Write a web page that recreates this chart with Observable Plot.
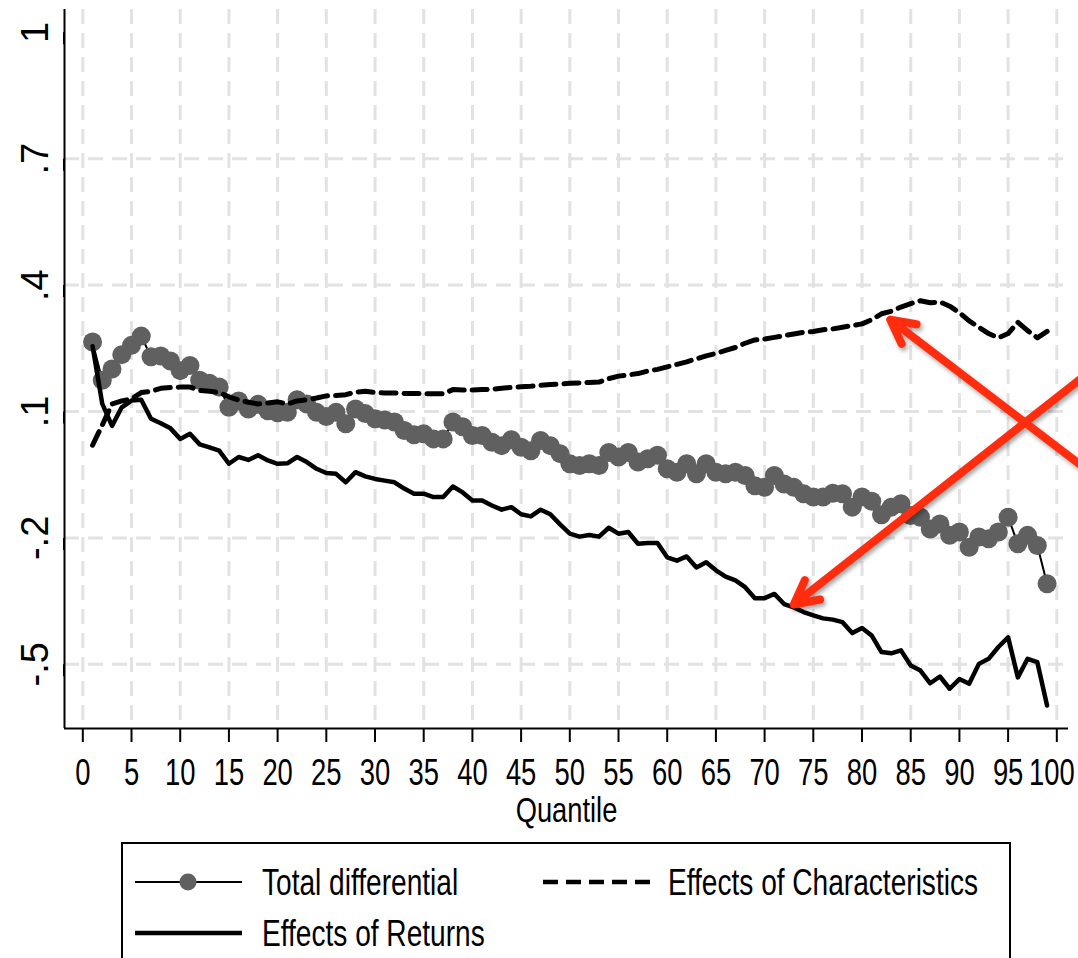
<!DOCTYPE html>
<html>
<head>
<meta charset="utf-8">
<script src="https://cdn.jsdelivr.net/npm/d3@7"></script>
<script src="https://cdn.jsdelivr.net/npm/@observablehq/plot@0.6"></script>
<style>
  html, body { margin: 0; padding: 0; background: #fff; overflow: hidden; }
  #wrap { position: relative; width: 1078px; height: 958px; background: #fff; }
  #wrap svg { display: block; }
  #legend { position: absolute; left: 0; top: 830px; }
</style>
</head>
<body>
<div id="wrap"></div>
<script>
// ---------------- data ----------------
const quantiles = d3.range(1, 100);

const totalDiff = [
  0.265, 0.174, 0.201, 0.235, 0.257, 0.279, 0.230, 0.232, 0.220, 0.197,
  0.209, 0.174, 0.167, 0.158, 0.110, 0.125, 0.106, 0.117, 0.102, 0.097,
  0.098, 0.128, 0.118, 0.098, 0.088, 0.098, 0.071, 0.106, 0.095, 0.083,
  0.080, 0.075, 0.055, 0.045, 0.047, 0.035, 0.035, 0.075, 0.064, 0.043,
  0.043, 0.027, 0.019, 0.033, 0.015, 0.007, 0.031, 0.019, 0.000, -0.024,
  -0.028, -0.024, -0.028, 0.003, -0.008, 0.003, -0.020, -0.012, -0.004, -0.036,
  -0.044, -0.024, -0.048, -0.024, -0.044, -0.048, -0.044, -0.052, -0.076, -0.080,
  -0.052, -0.072, -0.080, -0.095, -0.103, -0.103, -0.094, -0.095, -0.127, -0.103,
  -0.113, -0.145, -0.127, -0.119, -0.147, -0.151, -0.179, -0.167, -0.194, -0.186,
  -0.222, -0.198, -0.202, -0.186, -0.151, -0.214, -0.194, -0.218, -0.309
];

const charEffects = [
  0.020, 0.068, 0.118, 0.125, 0.130, 0.145, 0.148, 0.155, 0.157, 0.158,
  0.158, 0.150, 0.148, 0.145, 0.135, 0.127, 0.122, 0.118, 0.120, 0.123,
  0.118, 0.125, 0.128, 0.132, 0.137, 0.138, 0.140, 0.146, 0.148, 0.145,
  0.144, 0.144, 0.143, 0.143, 0.142, 0.142, 0.142, 0.152, 0.151, 0.151,
  0.152, 0.153, 0.155, 0.157, 0.159, 0.160, 0.162, 0.164, 0.165, 0.167,
  0.168, 0.169, 0.170, 0.178, 0.184, 0.187, 0.190, 0.196, 0.200, 0.206,
  0.212, 0.218, 0.225, 0.232, 0.238, 0.245, 0.252, 0.262, 0.270, 0.272,
  0.276, 0.280, 0.284, 0.288, 0.290, 0.294, 0.296, 0.300, 0.304, 0.308,
  0.318, 0.332, 0.338, 0.348, 0.356, 0.363, 0.358, 0.360, 0.350, 0.335,
  0.315, 0.300, 0.285, 0.275, 0.285, 0.312, 0.292, 0.275, 0.290
];

const retEffects = [
  0.255, 0.118, 0.066, 0.110, 0.126, 0.128, 0.083, 0.072, 0.060, 0.035,
  0.047, 0.022, 0.015, 0.007, -0.024, -0.008, -0.015, -0.004, -0.016, -0.024,
  -0.023, -0.008, -0.020, -0.036, -0.046, -0.048, -0.068, -0.044, -0.054, -0.060,
  -0.064, -0.068, -0.083, -0.095, -0.095, -0.103, -0.103, -0.078, -0.092, -0.111,
  -0.111, -0.123, -0.133, -0.127, -0.144, -0.149, -0.133, -0.144, -0.168, -0.190,
  -0.197, -0.193, -0.197, -0.176, -0.190, -0.186, -0.214, -0.212, -0.212, -0.246,
  -0.254, -0.244, -0.270, -0.258, -0.277, -0.292, -0.301, -0.317, -0.343, -0.343,
  -0.333, -0.357, -0.365, -0.376, -0.384, -0.391, -0.394, -0.400, -0.426, -0.414,
  -0.432, -0.471, -0.474, -0.467, -0.503, -0.515, -0.545, -0.529, -0.558, -0.535,
  -0.546, -0.499, -0.487, -0.459, -0.436, -0.531, -0.487, -0.495, -0.598
];

const xTicks = d3.range(0, 101, 5);
const yTicks = [-0.5, -0.2, 0.1, 0.4, 0.7, 1];
const yTickLabels = ["-.5", "-.2", ".1", ".4", ".7", "1"];
const seriesNames = ["Total differential", "Effects of Characteristics", "Effects of Returns"];
const xLabel = "Quantile";

// annotation arrows (tail -> tip), in data units
const arrowTailX = [102.9, 102.9];
const arrowTailY = [-0.035, 0.186];
const arrowTipX = [82.9, 73.0];
const arrowTipY = [0.318, -0.358];

// ---------------- build ----------------
const xDomain = [-1.88, 101.2];
const yDomain = [-0.6524, 1.0542];
const rows = quantiles.map((q, i) => ({q, total: totalDiff[i], chars: charEffects[i], rets: retEffects[i]}));
const arrows = arrowTailX.map((_, i) => ({x1: arrowTailX[i], y1: arrowTailY[i], x2: arrowTipX[i], y2: arrowTipY[i]}));
const yLabelMap = new Map(yTicks.map((v, i) => [v, yTickLabels[i]]));

const FONT = '"Liberation Sans", Arial, Helvetica, sans-serif';
const NARROW = 0.78;
const gridStyle = {stroke: "#e2e2e2", strokeOpacity: 1, strokeWidth: 3, strokeDasharray: "15,9"};

const chart = Plot.plot({
  width: 1078,
  height: 830,
  marginLeft: 64,
  marginRight: 10,
  marginTop: 9,
  marginBottom: 102,
  style: {fontFamily: FONT, background: "#fff", color: "#000", overflow: "visible"},
  x: {domain: xDomain},
  y: {domain: yDomain},
  marks: [
    Plot.gridY(yTicks.filter(v => v < 1), gridStyle),
    Plot.gridX(xTicks, gridStyle),
    Plot.line(rows, {x: "q", y: "total", stroke: "#000", strokeWidth: 2}),
    Plot.dot(rows, {x: "q", y: "total", r: 9.5, fill: "#606060", stroke: "none"}),
    Plot.line(rows, {x: "q", y: "chars", stroke: "#000", strokeWidth: 5, strokeDasharray: "15,8"}),
    Plot.line(rows, {x: "q", y: "rets", stroke: "#000", strokeWidth: 4.5, strokeLinejoin: "round"}),
    Plot.ruleX([xDomain[0]], {stroke: "#000", strokeWidth: 2}),
    Plot.ruleY([yDomain[0]], {stroke: "#000", strokeWidth: 2}),
    Plot.axisX({ticks: xTicks, tickSize: 14, tickPadding: 16, fontSize: 37, label: null, stroke: "#000", strokeWidth: 2}),
    Plot.axisY({ticks: yTicks, tickSize: 12, tickPadding: 17, rotate: -90, textAnchor: "middle", fontSize: 38,
                tickFormat: d => yLabelMap.get(d), label: null, stroke: "#000", strokeWidth: 2}),
    Plot.text([xLabel], {frameAnchor: "bottom", dy: 82, fontSize: 35, lineAnchor: "middle", fill: "#000"}),
    Plot.arrow(arrows, {x1: "x1", y1: "y1", x2: "x2", y2: "y2", stroke: "#ff2d0d", strokeWidth: 8,
                        headLength: 5, headAngle: 55, strokeLinecap: "round", strokeLinejoin: "round"})
  ]
});

d3.select(chart).selectAll('g[aria-label="arrow"]').style("filter", "drop-shadow(2px 3px 2px rgba(0,0,0,0.35))");
document.getElementById("wrap").appendChild(chart);

function condense(sel, k) {
  sel.each(function () {
    const w = this.getComputedTextLength();
    if (w > 0) {
      this.setAttribute("textLength", (w * k).toFixed(2));
      this.setAttribute("lengthAdjust", "spacingAndGlyphs");
    }
  });
}
const xTickText = d3.select(chart).selectAll('g[aria-label="x-axis tick label"] text');
condense(xTickText, 0.74);
// keep the last label ("100") inside the picture, as in the reference
xTickText.filter(function () { return this.textContent === "100"; }).attr("dx", -5);
condense(d3.select(chart).selectAll('g[aria-label="text"] text'), NARROW);

// ---------------- legend (below the chart) ----------------
const leg = d3.select("#wrap").append("svg").attr("id", "legend")
  .attr("width", 1078).attr("height", 128)
  .style("font-family", FONT);
const oy = 830;
leg.append("rect").attr("x", 122).attr("y", 843 - oy).attr("width", 888).attr("height", 200)
  .attr("fill", "#fff").attr("stroke", "#000").attr("stroke-width", 2);
const r1 = 882 - oy, r2 = 933 - oy;
leg.append("line").attr("x1", 135).attr("x2", 242).attr("y1", r1).attr("y2", r1).attr("stroke", "#000").attr("stroke-width", 2);
leg.append("circle").attr("cx", 188).attr("cy", r1).attr("r", 8.5).attr("fill", "#606060");
leg.append("line").attr("x1", 543).attr("x2", 652).attr("y1", r1).attr("y2", r1).attr("stroke", "#000").attr("stroke-width", 4.5).attr("stroke-dasharray", "15,8");
leg.append("line").attr("x1", 135).attr("x2", 242).attr("y1", r2).attr("y2", r2).attr("stroke", "#000").attr("stroke-width", 4.5);
const legTexts = [
  {x: 262, y: r1, t: seriesNames[0]},
  {x: 668, y: r1, t: seriesNames[1]},
  {x: 262, y: r2, t: seriesNames[2]}
];
leg.selectAll("text.lt").data(legTexts).join("text").attr("class", "lt")
  .attr("x", d => d.x).attr("y", d => d.y).attr("dy", "0.36em").attr("font-size", 36).attr("fill", "#000")
  .text(d => d.t);
condense(leg.selectAll("text.lt"), NARROW);
</script>
</body>
</html>
